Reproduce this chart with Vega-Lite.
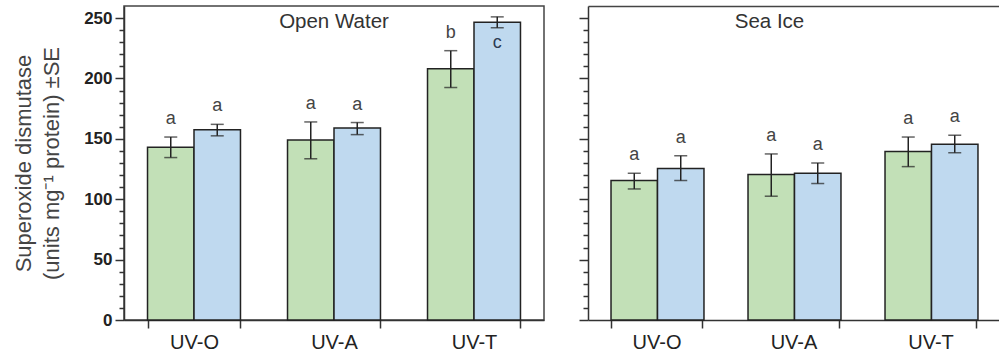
{
  "$schema": "https://vega.github.io/schema/vega-lite/v6.json",
  "background": "white",
  "padding": {"left": 11, "top": 5, "right": 0, "bottom": 0},
  "config": {
    "font": "Liberation Sans",
    "view": {"stroke": null},
    "axis": {"domainColor": "#333", "domainWidth": 1.5, "tickColor": "#333", "tickWidth": 1.5, "labelColor": "#222", "grid": false, "labelFont": "Liberation Sans", "titleFont": "Liberation Sans"},
    "axisRight": {"domain": false, "ticks": false, "labels": false, "grid": false}
  },
  "datasets": {
    "sod": [
      {"panel": "Open Water", "cat": "UV-O", "series": "S1", "mean": 143, "lo": 134.5, "hi": 151.5, "letter": "a"},
      {"panel": "Open Water", "cat": "UV-O", "series": "S2", "mean": 157.5, "lo": 152.5, "hi": 162, "letter": "a"},
      {"panel": "Open Water", "cat": "UV-A", "series": "S1", "mean": 149, "lo": 133.5, "hi": 164, "letter": "a"},
      {"panel": "Open Water", "cat": "UV-A", "series": "S2", "mean": 159, "lo": 153.5, "hi": 163.5, "letter": "a"},
      {"panel": "Open Water", "cat": "UV-T", "series": "S1", "mean": 208, "lo": 192.5, "hi": 223, "letter": "b"},
      {"panel": "Open Water", "cat": "UV-T", "series": "S2", "mean": 246.5, "lo": 242, "hi": 251, "letter": "c"},
      {"panel": "Sea Ice", "cat": "UV-O", "series": "S1", "mean": 115.5, "lo": 108.5, "hi": 121.5, "letter": "a"},
      {"panel": "Sea Ice", "cat": "UV-O", "series": "S2", "mean": 125.5, "lo": 115.5, "hi": 136, "letter": "a"},
      {"panel": "Sea Ice", "cat": "UV-A", "series": "S1", "mean": 120.5, "lo": 102.5, "hi": 137.5, "letter": "a"},
      {"panel": "Sea Ice", "cat": "UV-A", "series": "S2", "mean": 121.5, "lo": 113, "hi": 130, "letter": "a"},
      {"panel": "Sea Ice", "cat": "UV-T", "series": "S1", "mean": 139.5, "lo": 127, "hi": 151.5, "letter": "a"},
      {"panel": "Sea Ice", "cat": "UV-T", "series": "S2", "mean": 145.5, "lo": 138.5, "hi": 153, "letter": "a"}
    ]
  },
  "spacing": 44,
  "bounds": "flush",
  "hconcat": [
    {
      "width": 420,
      "height": 314,
      "data": {"name": "sod"},
      "transform": [{"filter": "datum.panel === 'Open Water'"}],
      "title": {"text": "Open Water", "offset": -42, "baseline": "alphabetic", "fontSize": 20.5, "fontWeight": "normal", "color": "#333", "anchor": "middle", "frame": "group"},
      "view": {"stroke": "#444", "strokeWidth": 1.5},
      "encoding": {
        "x": {"field": "cat", "type": "nominal", "sort": ["UV-O", "UV-A", "UV-T"], "scale": {"paddingInner": 0.336, "paddingOuter": 0.168}},
        "xOffset": {"field": "series", "type": "nominal", "sort": ["S1", "S2"], "scale": {"paddingInner": 0}}
      },
      "resolve": {"axis": {"x": "independent", "y": "independent"}},
      "layer": [
        {
          "mark": {"type": "bar", "stroke": "#222", "strokeWidth": 1.5},
          "encoding": {
            "x": {"field": "cat", "type": "nominal", "sort": ["UV-O", "UV-A", "UV-T"], "axis": {"title": null, "tickBand": "extent", "tickSize": 8, "labelFontSize": 20, "labelPadding": 4, "labelAngle": 0}},
            "y": {"field": "mean", "type": "quantitative", "scale": {"domain": [0, 260], "nice": false},
              "axis": {"orient": "left", "values": [0,10,20,30,40,50,60,70,80,90,100,110,120,130,140,150,160,170,180,190,200,210,220,230,240,250],
                "labelExpr": "datum.value % 50 === 0 ? datum.label : ''",
                "tickSize": {"condition": {"test": "datum.value % 50 === 0", "value": 9}, "value": 5},
                "labelFontSize": 17, "labelPadding": 3, "labelFontWeight": "bold",
                "title": ["Superoxide dismutase", "(units mg⁻¹ protein) ±SE"],
                "titleFontSize": 22, "titleFontWeight": "normal", "titleColor": "#444", "titleLineHeight": 28, "titlePadding": 20}},
            "color": {"field": "series", "type": "nominal", "scale": {"domain": ["S1", "S2"], "range": ["#c2e0b7", "#bfd9ef"]}, "legend": null}
          }
        },
        {
          "mark": {"type": "rule", "color": "#222", "strokeWidth": 1.5},
          "encoding": {"x": {"field": "cat", "type": "nominal", "sort": ["UV-O", "UV-A", "UV-T"], "axis": null}, "y": {"field": "lo", "type": "quantitative", "axis": null}, "y2": {"field": "hi"}}
        },
        {
          "mark": {"type": "tick", "color": "#222", "thickness": 1.5, "size": 13},
          "encoding": {"x": {"field": "cat", "type": "nominal", "sort": ["UV-O", "UV-A", "UV-T"], "axis": null}, "y": {"field": "lo", "type": "quantitative", "axis": null}}
        },
        {
          "mark": {"type": "tick", "color": "#222", "thickness": 1.5, "size": 13},
          "encoding": {"x": {"field": "cat", "type": "nominal", "sort": ["UV-O", "UV-A", "UV-T"], "axis": null}, "y": {"field": "hi", "type": "quantitative", "axis": null}}
        },
        {
          "transform": [{"filter": "datum.letter !== 'c'"}],
          "mark": {"type": "text", "baseline": "alphabetic", "dy": -13, "fontSize": 18, "color": "#444"},
          "encoding": {"x": {"field": "cat", "type": "nominal", "sort": ["UV-O", "UV-A", "UV-T"], "axis": null}, "y": {"field": "hi", "type": "quantitative", "axis": null}, "text": {"field": "letter"}}
        },
        {
          "transform": [{"filter": "datum.letter === 'c'"}],
          "mark": {"type": "text", "baseline": "alphabetic", "dy": 26, "fontSize": 18, "color": "#2c3b52"},
          "encoding": {"x": {"field": "cat", "type": "nominal", "sort": ["UV-O", "UV-A", "UV-T"], "axis": null}, "y": {"field": "mean", "type": "quantitative", "axis": null}, "text": {"field": "letter"}}
        }
      ]
    },
    {
      "width": 411,
      "height": 314,
      "data": {"name": "sod"},
      "transform": [{"filter": "datum.panel === 'Sea Ice'"}],
      "title": {"text": "Sea Ice", "offset": -42, "baseline": "alphabetic", "fontSize": 20.5, "fontWeight": "normal", "color": "#333", "anchor": "middle", "frame": "group", "dx": -24},
      "view": {"stroke": null},
      "encoding": {
        "x": {"field": "cat", "type": "nominal", "sort": ["UV-O", "UV-A", "UV-T"], "scale": {"paddingInner": 0.336, "paddingOuter": 0.168}},
        "xOffset": {"field": "series", "type": "nominal", "sort": ["S1", "S2"], "scale": {"paddingInner": 0}}
      },
      "resolve": {"axis": {"x": "independent", "y": "independent"}},
      "layer": [
        {
          "mark": {"type": "bar", "stroke": "#222", "strokeWidth": 1.5},
          "encoding": {
            "x": {"field": "cat", "type": "nominal", "sort": ["UV-O", "UV-A", "UV-T"], "axis": {"title": null, "tickBand": "extent", "tickSize": 8, "labelFontSize": 20, "labelPadding": 4, "labelAngle": 0}},
            "y": {"field": "mean", "type": "quantitative", "scale": {"domain": [0, 260], "nice": false},
              "axis": {"orient": "left", "values": [0,10,20,30,40,50,60,70,80,90,100,110,120,130,140,150,160,170,180,190,200,210,220,230,240,250],
                "labels": false,
                "tickSize": {"condition": {"test": "datum.value % 50 === 0", "value": 9}, "value": 5},
                "title": null}},
            "color": {"field": "series", "type": "nominal", "scale": {"domain": ["S1", "S2"], "range": ["#c2e0b7", "#bfd9ef"]}, "legend": null}
          }
        },
        {
          "mark": {"type": "rule", "color": "#222", "strokeWidth": 1.5},
          "encoding": {"x": {"field": "cat", "type": "nominal", "sort": ["UV-O", "UV-A", "UV-T"], "axis": null}, "y": {"field": "lo", "type": "quantitative", "axis": null}, "y2": {"field": "hi"}}
        },
        {
          "mark": {"type": "tick", "color": "#222", "thickness": 1.5, "size": 13},
          "encoding": {"x": {"field": "cat", "type": "nominal", "sort": ["UV-O", "UV-A", "UV-T"], "axis": null}, "y": {"field": "lo", "type": "quantitative", "axis": null}}
        },
        {
          "mark": {"type": "tick", "color": "#222", "thickness": 1.5, "size": 13},
          "encoding": {"x": {"field": "cat", "type": "nominal", "sort": ["UV-O", "UV-A", "UV-T"], "axis": null}, "y": {"field": "hi", "type": "quantitative", "axis": null}}
        },
        {
          "mark": {"type": "text", "baseline": "alphabetic", "dy": -13, "fontSize": 18, "color": "#444"},
          "encoding": {"x": {"field": "cat", "type": "nominal", "sort": ["UV-O", "UV-A", "UV-T"], "axis": {"orient": "top", "title": null, "labels": false, "ticks": false, "domain": true, "domainColor": "#444"}}, "y": {"field": "hi", "type": "quantitative", "axis": null}, "text": {"field": "letter"}}
        }
      ]
    }
  ]
}
